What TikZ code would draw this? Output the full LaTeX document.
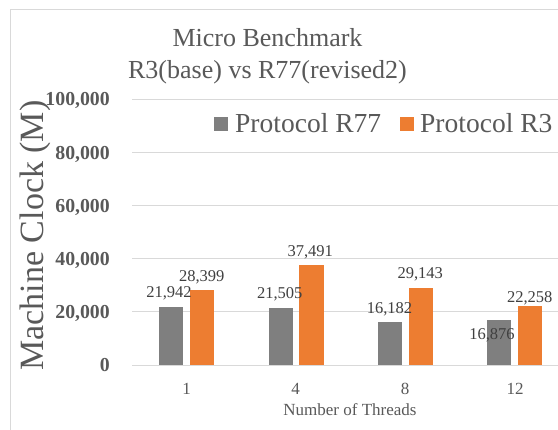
\documentclass[tikz,border=0pt]{standalone}
\usepackage{fontspec}
\setmainfont{Liberation Serif}
\definecolor{gridc}{HTML}{D9D9D9}
\definecolor{txtc}{HTML}{595959}
\definecolor{valc}{HTML}{404040}
\definecolor{barg}{HTML}{7F7F7F}
\definecolor{baro}{HTML}{ED7D31}
\tikzset{
  lbl/.style={inner sep=0pt, text depth=0pt},
  ttl/.style={lbl, text height=17.2pt, text=txtc, font=\fontsize{26}{31}\selectfont},
  ytick/.style={lbl, text height=13.4pt, anchor=east, text=txtc, font=\bfseries\fontsize{19.8}{22}\selectfont},
  xtick/.style={lbl, text height=11.5pt, text=txtc, font=\fontsize{17}{20}\selectfont},
  vallbl/.style={lbl, text height=11.2pt, text=valc, font=\fontsize{16.5}{19}\selectfont},
  legtxt/.style={lbl, text height=18.2pt, anchor=west, text=txtc, font=\fontsize{27.5}{30}\selectfont},
  legkey/.style={minimum size=14pt, inner sep=0pt},
  gridline/.style={draw=gridc, line width=0.9pt},
}
\begin{document}
\begin{tikzpicture}[x=1pt,y=-1pt]
\useasboundingbox (0,0) rectangle (558,430);
\fill[white] (0,0) rectangle (558,430);
% chart frame (left and top edges)
\draw[gridc, line width=0.9pt] (10.5,430) -- (10.5,9.5) -- (558,9.5);

% title
\node[ttl] (t1) at (267.5,37.5) {Micro Benchmark};
\node[ttl] (t2) at (267.5,69.7) {R3(base) vs R77(revised2)};

% horizontal gridlines and value axis labels
\foreach \k/\txt in {0/0,1/20{,}000,2/40{,}000,3/60{,}000,4/80{,}000,5/100{,}000} {
  \draw[gridline] (132,{365-\k*53.14}) -- (558,{365-\k*53.14});
  \node[ytick] (y\k) at (110,{365-\k*53.14}) {\txt};
}

% bars (values in thousands)
\foreach \c/\g/\o in {186.7/21.942/28.399, 296.1/21.505/37.491, 405.5/16.182/29.143, 514.9/16.876/22.258} {
  \fill[barg] (\c-27.5,365) rectangle (\c-3.5,{365-\g*2.6571});
  \fill[baro] (\c+3,365) rectangle (\c+27.5,{365-\o*2.6571});
}

% data labels
\node[vallbl] (g1) at (169,292) {21,942};
\node[vallbl] (o1) at (201.7,275.7) {28,399};
\node[vallbl] (g2) at (279.7,293.3) {21,505};
\node[vallbl] (o2) at (310.3,251) {37,491};
\node[vallbl] (g3) at (389.5,307.7) {16,182};
\node[vallbl] (o3) at (420.3,273.3) {29,143};
\node[vallbl] (g4) at (492,334) {16,876};
\node[vallbl] (o4) at (529.7,296.7) {22,258};

% category labels
\node[xtick] (c1) at (186.7,388.3) {1};
\node[xtick] (c2) at (295.7,388.3) {4};
\node[xtick] (c3) at (405,388.3) {8};
\node[xtick] (c4) at (515,388.3) {12};
\node[xtick, text height=11.2pt] (xt) at (350,410) {Number of Threads};

% value axis title
\node[text=txtc, inner sep=0pt, anchor=base, rotate=90, font=\fontsize{34}{38}\selectfont] (yt) at (43.3,235.5) {Machine Clock (M)};

% legend
\node[legkey, fill=barg] (k1) at (220.5,123.7) {};
\node[legtxt] (l1) at (235,123.3) {Protocol R77};
\node[legkey, fill=baro] (k2) at (406.7,123.7) {};
\node[legtxt] (l2) at (420,123.3) {Protocol R3};
\end{tikzpicture}
\end{document}
